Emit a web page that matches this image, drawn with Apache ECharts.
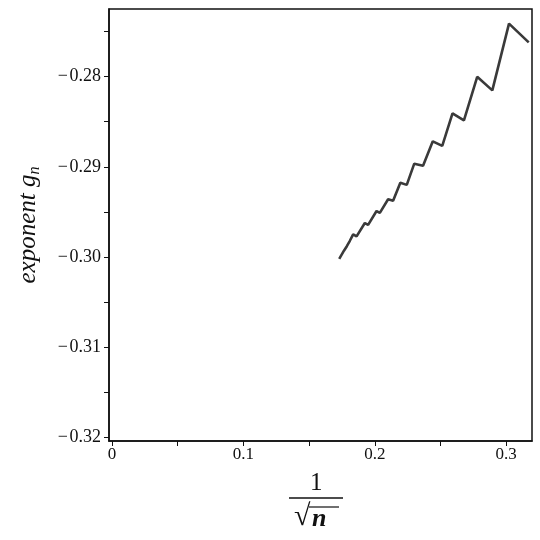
<!DOCTYPE html>
<html>
<head>
<meta charset="utf-8">
<script src="https://cdn.jsdelivr.net/npm/echarts@6/dist/echarts.min.js"></script>
<style>
  html, body { margin: 0; padding: 0; background: #fff; }
  #chart { width: 540px; height: 540px; }
</style>
</head>
<body>
<div id="chart"></div>
<script>
  // x = 1/sqrt(n), y = exponent g_n
  var xValues = [0.1729, 0.1765, 0.1787, 0.1810, 0.1835, 0.1861, 0.1924, 0.1949, 0.2013, 0.2038,
                 0.2101, 0.2139, 0.2194, 0.2243, 0.2300, 0.2367, 0.2441, 0.2513, 0.2591, 0.2678,
                 0.2779, 0.2894, 0.3021, 0.3171];
  var yValues = [-0.3002, -0.2993, -0.2988, -0.2982, -0.29748, -0.29771, -0.29623, -0.29643, -0.2949, -0.2951,
                 -0.2936, -0.29377, -0.29177, -0.2920, -0.28965, -0.28989, -0.28717, -0.28767, -0.28407, -0.28484,
                 -0.28002, -0.28152, -0.27412, -0.2762];
  var xTickLabels = [0, 0.1, 0.2, 0.3];
  var xTicks = [0, 0.05, 0.1, 0.15, 0.2, 0.25, 0.3];
  var yTickLabels = [-0.32, -0.31, -0.30, -0.29, -0.28];
  var yTicks = [-0.32, -0.315, -0.31, -0.305, -0.30, -0.295, -0.29, -0.285, -0.28, -0.275];

  var serif = '"Liberation Serif", "DejaVu Serif", serif';
  var points = xValues.map(function (x, i) { return [x, yValues[i]]; });

  var myChart = echarts.init(document.getElementById('chart'));
  myChart.setOption({
    animation: false,
    backgroundColor: '#fff',
    grid: {
      left: 109, right: 8, top: 9, bottom: 99,
      show: true, borderColor: '#111', borderWidth: 1.5
    },
    xAxis: {
      type: 'value',
      min: -0.0023,
      max: 0.3196,
      splitLine: { show: false },
      axisLine: { onZero: false, lineStyle: { color: '#111', width: 1.5 } },
      axisTick: { customValues: xTicks, length: 5, lineStyle: { color: '#111' } },
      axisLabel: {
        customValues: xTickLabels,
        color: '#111', fontFamily: serif, fontSize: 17, margin: 5,
        formatter: function (v) { return v === 0 ? '0' : v.toFixed(1); }
      }
    },
    yAxis: {
      type: 'value',
      min: -0.3204,
      max: -0.2725,
      splitLine: { show: false },
      axisLine: { onZero: false, lineStyle: { color: '#111', width: 1.5 } },
      axisTick: { customValues: yTicks, length: 5, lineStyle: { color: '#111' } },
      axisLabel: {
        customValues: yTickLabels,
        color: '#111', fontFamily: serif, fontSize: 18, margin: 8,
        formatter: function (v) { return '\u2212\u200A' + Math.abs(v).toFixed(2); }
      },
      name: '{a|exponent g}{b|n}',
      nameLocation: 'middle',
      nameGap: 66,
      nameRotate: 90,
      nameTextStyle: {
        rich: {
          a: { fontFamily: serif, fontStyle: 'italic', fontSize: 25, color: '#111' },
          b: { fontFamily: serif, fontStyle: 'italic', fontSize: 16, color: '#111', padding: [14, 0, 0, 0] }
        }
      }
    },
    graphic: [
      { type: 'text', left: 310, top: 471, style: { text: '1', font: '25px ' + serif, fill: '#111' } },
      { type: 'line', shape: { x1: 289, y1: 498, x2: 343, y2: 498 }, style: { stroke: '#111', lineWidth: 1.4 } },
      { type: 'text', left: 294, top: 502, style: { text: '\u221A', font: '30px ' + serif, fill: '#111' } },
      { type: 'line', shape: { x1: 309, y1: 507, x2: 339, y2: 507 }, style: { stroke: '#111', lineWidth: 1.2 } },
      { type: 'text', left: 312, top: 506, style: { text: 'n', font: 'italic bold 26px ' + serif, fill: '#111' } }
    ],
    series: [
      {
        type: 'line',
        data: points,
        showSymbol: false,
        lineStyle: { color: '#3a3a3a', width: 2.6 }
      }
    ]
  });
</script>
</body>
</html>
